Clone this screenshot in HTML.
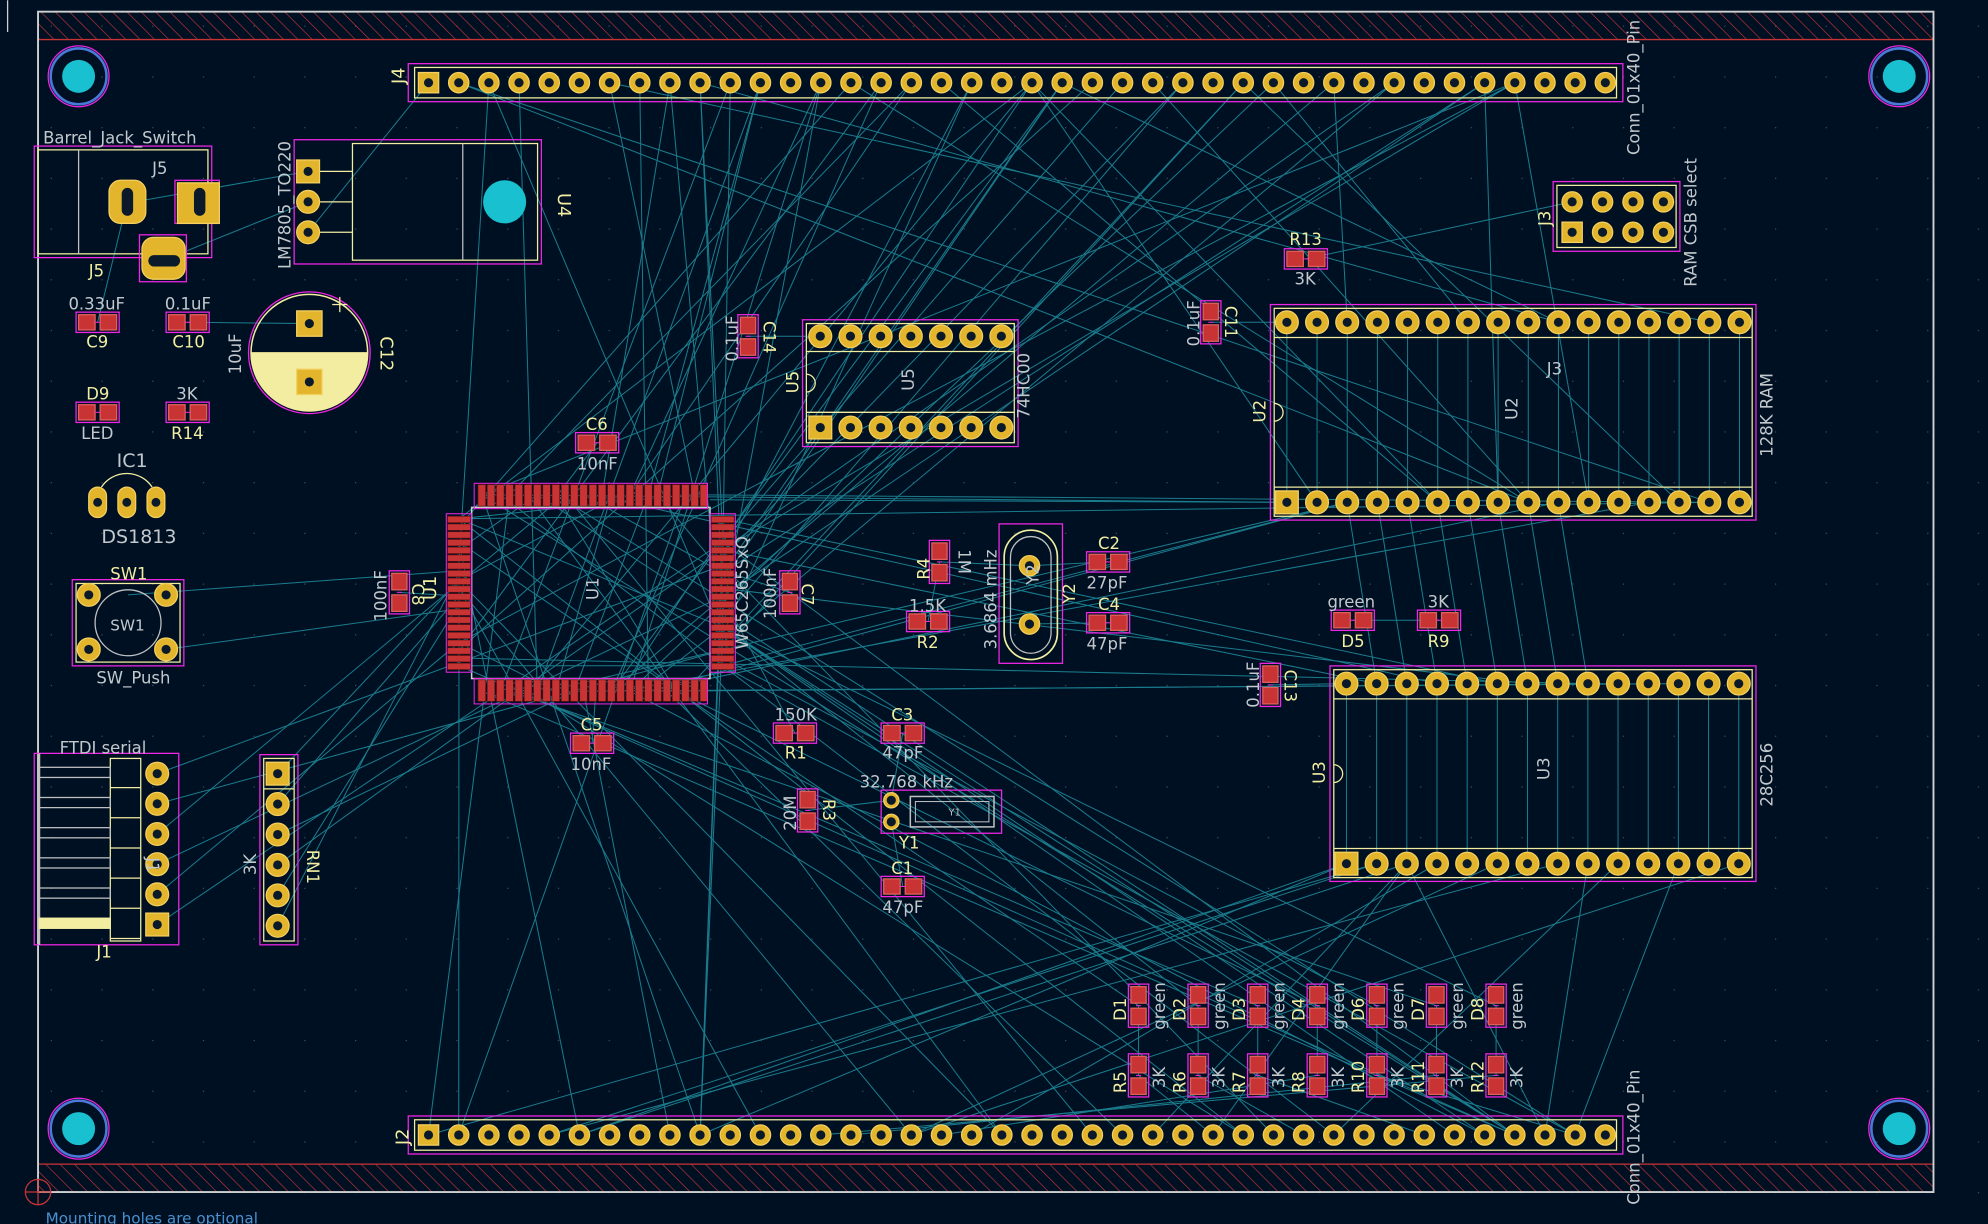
<!DOCTYPE html>
<html><head><meta charset="utf-8"><style>
html,body{margin:0;padding:0;background:#001023;}
svg{display:block}
text{font-family:"DejaVu Sans","Liberation Sans",sans-serif;}
.r{fill:#f2eda1}
.v{fill:#c2c8cc}
</style></head><body>
<svg id="s" xmlns="http://www.w3.org/2000/svg" width="1988" height="1224" viewBox="0 0 1568 965">
<defs>
<pattern id="hatch" patternUnits="userSpaceOnUse" width="8" height="8" patternTransform="rotate(-45)">
<line x1="0" y1="0" x2="0" y2="8" stroke="#c83434" stroke-width="1"/>
</pattern>
</defs>
<rect width="1568" height="965" fill="#001023"/>
<g id="grid"></g>
<rect x="30" y="9" width="1495" height="22" fill="url(#hatch)"/>
<line x1="30" y1="31" x2="1525" y2="31" stroke="#c83434" stroke-width="1"/>
<rect x="30" y="918" width="1495" height="22" fill="url(#hatch)"/>
<line x1="30" y1="918" x2="1525" y2="918" stroke="#c83434" stroke-width="1"/>
<rect x="30" y="9" width="1495" height="931" fill="none" stroke="#d0d0d0" stroke-width="1.5"/>
<line x1="6" y1="0" x2="6" y2="25" stroke="#d0d0d0"/>
<g id="rats" stroke="#1d8898" stroke-width="0.8" fill="none" opacity="0.9"></g>
<g id="parts"></g>
<g id="txt">
<text class="v" x="34" y="113" font-size="13">Barrel_Jack_Switch</text>
<text class="v" x="120" y="137" font-size="13">J5</text>
<text class="r" x="70" y="218" font-size="13">J5</text>
<text class="v" x="54" y="244" font-size="13">0.33uF</text>
<text class="v" x="130" y="244" font-size="13">0.1uF</text>
<text class="r" x="68" y="274" font-size="13">C9</text>
<text class="r" x="136" y="274" font-size="13">C10</text>
<text class="r" x="68" y="315" font-size="13">D9</text>
<text class="v" x="139" y="315" font-size="13">3K</text>
<text class="v" x="64" y="346" font-size="13">LED</text>
<text class="r" x="135" y="346" font-size="13">R14</text>
<text class="v" x="92" y="368" font-size="15">IC1</text>
<text class="v" x="80" y="428" font-size="15">DS1813</text>
<text class="r" x="87" y="457" font-size="13">SW1</text>
<text class="v" x="87" y="497" font-size="12">SW1</text>
<text class="v" x="76" y="539" font-size="13">SW_Push</text>
<text class="v" x="47" y="594" font-size="13">FTDI serial</text>
<text class="r" x="76" y="755" font-size="13">J1</text>
<text class="v" x="455" y="370" font-size="13">10nF</text>
<text class="r" x="462" y="339" font-size="13">C6</text>
<text class="r" x="458" y="576" font-size="13">C5</text>
<text class="v" x="450" y="607" font-size="13">10nF</text>
<text class="v" x="611" y="568" font-size="13">150K</text>
<text class="r" x="619" y="598" font-size="13">R1</text>
<text class="r" x="703" y="568" font-size="13">C3</text>
<text class="v" x="696" y="598" font-size="13">47pF</text>
<text class="v" x="678" y="621" font-size="13">32.768 kHz</text>
<text class="r" x="709" y="669" font-size="13">Y1</text>
<text class="r" x="703" y="689" font-size="13">C1</text>
<text class="v" x="696" y="720" font-size="13">47pF</text>
<text class="v" x="717" y="482" font-size="13">1.5K</text>
<text class="r" x="723" y="511" font-size="13">R2</text>
<text class="r" x="866" y="433" font-size="13">C2</text>
<text class="v" x="857" y="464" font-size="13">27pF</text>
<text class="r" x="866" y="481" font-size="13">C4</text>
<text class="v" x="857" y="512" font-size="13">47pF</text>
<text class="r" x="1017" y="193" font-size="13">R13</text>
<text class="v" x="1021" y="224" font-size="13">3K</text>
<text class="v" x="1047" y="479" font-size="13">green</text>
<text class="r" x="1058" y="510" font-size="13">D5</text>
<text class="v" x="1126" y="479" font-size="13">3K</text>
<text class="r" x="1126" y="510" font-size="13">R9</text>
<text class="v" x="1220" y="295" font-size="13">J3</text>
<text class="v" x="461" y="472" font-size="13" transform="rotate(-90 467 467)">U1</text>
<text class="v" x="710" y="303" font-size="13" transform="rotate(-90 718 300)">U5</text>
<text class="v" x="1186" y="330" font-size="13" transform="rotate(-90 1192 325)">U2</text>
<text class="v" x="1211" y="614" font-size="13" transform="rotate(-90 1217 609)">U3</text>
<g id="vt"></g>
</g>
</svg>
<script>
var NS="http://www.w3.org/2000/svg";
var P=document.getElementById('parts'),R=document.getElementById('rats'),VT=document.getElementById('vt'),G=document.getElementById('grid');
function el(t,a,par){var e=document.createElementNS(NS,t);for(var k in a)e.setAttribute(k,a[k]);(par||P).appendChild(e);return e;}
function rect(x,y,w,h,s,f,sw){return el('rect',{x:x,y:y,width:w,height:h,fill:f||'none',stroke:s||'none','stroke-width':sw||1});}
function line(x1,y1,x2,y2,s,sw,par){return el('line',{x1:x1,y1:y1,x2:x2,y2:y2,stroke:s,'stroke-width':sw||1},par);}
var GOLD='#e3b52c',MAG='#f025e6',SILK='#f2eda1',RED='#c83434';
for(var gx=40;gx<1568;gx+=40)for(var gy=20;gy<965;gy+=40)el('rect',{x:gx,y:gy,width:1,height:1,fill:'#3a4a5a'},G);
var pads=[];
function tht(x,y,sq,r){r=r||9;
 if(sq)rect(x-r,y-r,2*r,2*r,'#f5d060',GOLD,1);else el('circle',{cx:x,cy:y,r:r,fill:GOLD,stroke:'#f5d060','stroke-width':1});
 el('circle',{cx:x,cy:y,r:3.6,fill:'#0a1a2a'});pads.push([x,y]);}
function smd(x,y,vert){
 if(vert){rect(x-8,y-17,16,34,MAG);rect(x-6,y-15,12,13,'#e06060',RED,1);rect(x-6,y+2,12,13,'#e06060',RED,1);}
 else{rect(x-17,y-8,34,16,MAG);rect(x-15,y-6,13,12,'#e06060',RED,1);rect(x+2,y-6,13,12,'#e06060',RED,1);}
 line(x-2,y,x+2,y,MAG,0.8);pads.push([x,y]);}
function vtext(x,y,s,cls,fs,rot){var t=el('text',{x:x,y:y,'class':cls,'font-size':fs||13,transform:'rotate('+(rot||-90)+' '+x+' '+y+')'},VT);t.textContent=s;}
[[62,60],[1498,60],[62,890],[1498,890]].forEach(function(p){
 el('circle',{cx:p[0],cy:p[1],r:24,fill:'none',stroke:MAG,'stroke-width':1});
 el('circle',{cx:p[0],cy:p[1],r:22,fill:'none',stroke:'#4a7ad8','stroke-width':2});
 el('circle',{cx:p[0],cy:p[1],r:13,fill:'#18c0d0'});});
[[65,'J4'],[895,'J2']].forEach(function(h){var y=h[0];
 rect(322,y-15,958,30,MAG);rect(327,y-12,948,24,SILK,'none',1);
 for(var i=0;i<40;i++)tht(338+i*23.8,y,i==0,8);
});
rect(372,400,188,135,'#d0d0d0','none',1.2);
for(var i=0;i<25;i++){var x=377+i*7.3;rect(x,382,6,17,'#601010',RED,0.5);rect(x,536,6,17,'#601010',RED,0.5);}
for(var i=0;i<20;i++){var y=407+i*6.1;rect(353,y,18,5,'#601010',RED,0.5);rect(561,y,18,5,'#601010',RED,0.5);}
rect(374,381,184,20,MAG,'none',0.8);rect(374,535,184,20,MAG,'none',0.8);
rect(352,405,20,125,MAG,'none',0.8);rect(560,405,20,125,MAG,'none',0.8);
function dip(x0,y0,x1,y1,n,px,ty,by,step){
 rect(x0,y0,x1-x0,y1-y0,MAG);rect(x0+3,y0+3,x1-x0-6,y1-y0-6,SILK,'none',1);
 el('path',{d:'M'+(x0+3)+' '+((y0+y1)/2-7)+' a7 7 0 0 1 0 14',fill:'none',stroke:SILK},P);
 line(x0+3,ty+12,x1-3,ty+12,SILK,1);line(x0+3,by-12,x1-3,by-12,SILK,1);
 for(var i=0;i<n;i++){tht(px+i*step,by,i==0,9);tht(px+i*step,ty,false,9);}
}
dip(633,252,803,352,7,647,265,337,23.8);
dip(1002,240,1385,410,16,1015,254,396,23.8);
dip(1049,525,1385,695,14,1062,539,681,23.8);
rect(1225,143,100,55,MAG);rect(1228,146,94,49,SILK,'none',1);
for(var i=0;i<4;i++){tht(1240+i*24,159,false,8);tht(1240+i*24,183,i==0,8);}
rect(232,110,195,98,MAG);rect(278,113,146,92,SILK,'none',1);line(365,113,365,205,'#c0c0c0',1);
[135,159,183].forEach(function(y,i){line(243,y,278,y,SILK,1);tht(243,y,i==0,9);});
el('circle',{cx:398,cy:159,r:17,fill:'#18c0d0'});
rect(27,115,140,88,MAG);rect(30,118,134,82,SILK,'none',1);line(62,118,62,200,'#c0c0c0',1);
el('rect',{x:86,y:142,width:29,height:34,rx:9,fill:GOLD,stroke:'#f5d060'});
el('rect',{x:96,y:148,width:9,height:22,rx:4.5,fill:'#0a1a2a'});
rect(138,142,35,34,MAG);rect(140,144,33,32,'#f5d060',GOLD,1);el('rect',{x:153,y:148,width:9,height:22,rx:4.5,fill:'#0a1a2a'});
rect(110,185,37,37,MAG);el('rect',{x:112,y:187,width:34,height:33,rx:9,fill:GOLD,stroke:'#f5d060'});
el('rect',{x:117,y:201,width:25,height:9,rx:4.5,fill:'#0a1a2a'});
el('circle',{cx:244,cy:278,r:48,fill:'none',stroke:MAG,'stroke-width':1});
el('path',{d:'M198 278 A46 46 0 0 0 290 278 Z',fill:'#f2eda1'});
el('circle',{cx:244,cy:278,r:46,fill:'none',stroke:SILK,'stroke-width':1.2});
line(198,278,290,278,SILK,1);
tht(244,255,true,10);tht(244,301,true,10);
line(262,240,274,240,SILK,1);line(268,234,268,246,SILK,1);
for(var i=0;i<3;i++){el('rect',{x:70+i*23,y:384,width:14,height:24,rx:7,fill:GOLD,stroke:'#f5d060'});el('circle',{cx:77+i*23,cy:396,r:3.5,fill:'#0a1a2a'});}
el('path',{d:'M80 384 a24 24 0 0 1 40 0',fill:'none',stroke:SILK,'stroke-width':1});
rect(57,457,88,68,MAG);rect(60,460,82,62,SILK,'none',1);
el('circle',{cx:101,cy:491,r:26,fill:'none',stroke:'#c0c0c0','stroke-width':1});
tht(70,469,false,9);tht(131,469,false,9);tht(70,512,false,9);tht(131,512,false,9);
rect(27,594,114,151,MAG);rect(87,598,24,144,SILK,'none',1);line(31,594,31,745,'#c0c0c0',1.5);
for(var i=0;i<6;i++){var y=609+i*23.8;line(87,y+12,111,y+12,SILK,1);
 rect(31,y-4,56,8,i==5?SILK:'#c0c0c0',i==5?'#f2eda1':'none',1);tht(124,610+i*23.8,i==5,9);}
rect(205,595,30,150,MAG);rect(208,598,24,144,SILK,'none',1);line(208,622,232,622,SILK,1);
for(var i=0;i<6;i++)tht(219,610+i*24,i==0,9);
rect(788,413,50,110,MAG);
el('rect',{x:792,y:418,width:42,height:102,rx:21,fill:'none',stroke:SILK,'stroke-width':1.3});
el('rect',{x:797,y:423,width:32,height:92,rx:16,fill:'none',stroke:'#c0c0c0','stroke-width':1});
tht(812,446,false,8);tht(812,492,false,8);
rect(695,623,95,34,MAG);rect(718,628,66,24,'#c0c0c0','none',1.2);rect(722,632,58,16,'#c0c0c0','none',0.8);
el('text',{x:748,y:643,'font-size':8,fill:'#c0c0c0'},P).textContent='Y1';
tht(703,631,false,6);tht(703,648,false,6);
[[77,254,0],[148,254,0],[77,325,0],[148,325,0],[471,349,0],[590,265,1],[955,254,1],[1030,204,0],[315,467,1],[623,467,1],[741,443,1],[874,443,0],[732,490,0],[874,491,0],[1067,489,0],[1135,489,0],[1002,540,1],[627,578,0],[712,578,0],[467,586,0],[637,639,1],[712,699,0]].forEach(function(s){smd(s[0],s[1],s[2]);});
var dx=[898,945,992,1039,1086,1133,1180],dn=['D1','D2','D3','D4','D6','D7','D8'],rn=['R5','R6','R7','R8','R10','R11','R12'];
dx.forEach(function(x,i){smd(x,793,1);smd(x,848,1);
 vtext(x-10,805,dn[i],'r',13);vtext(x+21,812,'green','v',13);
 vtext(x-10,862,rn[i],'r',13);vtext(x+21,858,'3K','v',13);});
vtext(319,66,'J4','r',14);vtext(322,903,'J2','r',14);
vtext(1293,122,'Conn_01x40_Pin','v',13);vtext(1293,950,'Conn_01x40_Pin','v',13);
vtext(229,212,'LM7805_TO220','v',13);vtext(440,152,'U4','r',14,90);
vtext(190,295,'10uF','v',13);vtext(300,265,'C12','r',14,90);
vtext(1223,178,'J3','r',13);vtext(1338,226,'RAM CSB select','v',13);
vtext(582,285,'0.1uF','v',13);vtext(602,253,'C14','r',13,90);
vtext(946,273,'0.1uF','v',13);vtext(966,241,'C11','r',13,90);
vtext(630,310,'U5','r',13);vtext(812,330,'74HC00','v',13);
vtext(998,333,'U2','r',13);vtext(1398,360,'128K RAM','v',13);
vtext(1045,618,'U3','r',13);vtext(1398,636,'28C256','v',13);
vtext(993,558,'0.1uF','v',13);vtext(1013,528,'C13','r',13,90);
vtext(305,490,'100nF','v',13);vtext(325,460,'C8','r',13,90);vtext(344,473,'U1','r',14);
vtext(590,512,'W65C265SxQ','v',13);vtext(612,488,'100nF','v',13);vtext(632,460,'C7','r',13,90);
vtext(733,457,'R4','r',13);vtext(756,433,'1M','v',13,90);
vtext(786,512,'3.6864 mHz','v',13);vtext(819,461,'Y2','v',13);vtext(848,476,'Y2','r',13);
vtext(628,655,'20M','v',13);vtext(649,630,'R3','r',13,90);
vtext(202,690,'3K','v',13);vtext(242,670,'RN1','r',13,90);vtext(116,676,'J1','v',13,90);
el('text',{x:36,y:965,'font-size':12,fill:'#4a90d0'},P).textContent='Mounting holes are optional';
el('circle',{cx:30,cy:940,r:10,fill:'none',stroke:'#c83434'},P);line(20,940,40,940,'#c83434',1);line(30,930,30,950,'#c83434',1);
var seed=7;function rnd(){seed=(seed*16807)%2147483647;return seed/2147483647;}
var J4=[],J2=[];for(var i=0;i<40;i++){J4.push([338+i*23.8,65]);J2.push([338+i*23.8,895]);}
var U1=[];for(var i=0;i<25;i++){U1.push([380+i*7.3,390]);U1.push([380+i*7.3,545]);}for(var i=0;i<20;i++){U1.push([362,409+i*6.1]);U1.push([570,409+i*6.1]);}
var U2t=[],U2b=[],U3t=[],U3b=[];
for(var i=0;i<16;i++){U2t.push([1015+i*23.8,254]);U2b.push([1015+i*23.8,396]);}
for(var i=0;i<14;i++){U3t.push([1062+i*23.8,539]);U3b.push([1062+i*23.8,681]);}
function L(a,b){line(a[0],a[1],b[0],b[1],'#1d8898',0.8,R);}
function pick(a){return a[Math.floor(rnd()*a.length)];}
for(var i=0;i<45;i++)L(pick(U1),pick(J4));
for(var i=0;i<30;i++)L(pick(U1),pick(J2));
for(var i=0;i<15;i++)L(pick(U1),pick(U1));
for(var i=0;i<16;i++){L(U2t[i],U2b[i]);}
for(var i=0;i<14;i++){L(U3t[i],U3b[i]);}
for(var i=0;i<8;i++)L(U2b[i+2],U3t[i+1]);
for(var i=0;i<15;i++)L(pick(U2t.concat(U2b)),pick(J4));
for(var i=0;i<15;i++)L(pick(U3b),pick(J2));
for(var i=0;i<15;i++)L(pick(U1),pick(U2b.concat(U3t)));
for(var i=0;i<7;i++){L([dx[i],793],[dx[i],848]);L([dx[i],848],pick(J2));L([dx[i],793],pick(U1));}
for(var i=0;i<6;i++){L([124,610+i*23.8],pick(U1));L([219,610+i*24],pick(U1));}
L([100,160],[243,135]);L([129,205],[243,159]);L([243,183],[338,65]);
L([148,254],[244,255]);L([77,254],[100,160]);L([812,446],[874,443]);L([812,492],[874,491]);
L([1067,489],[1135,489]);L([1030,204],[1240,159]);
L([703,631],[712,578]);L([703,648],[712,699]);L([637,639],[703,631]);L([627,578],[570,470]);
L([471,349],[440,390]);L([467,586],[470,545]);L([315,467],[362,470]);L([623,467],[570,450]);
L([741,443],[732,490]);L([741,443],[812,446]);L([590,265],[647,265]);L([955,254],[1015,254]);
L([1002,540],[1062,539]);L([101,469],[362,450]);L([131,512],[362,480]);
L([560,394],[1015,396]);
</script>
</body></html>
